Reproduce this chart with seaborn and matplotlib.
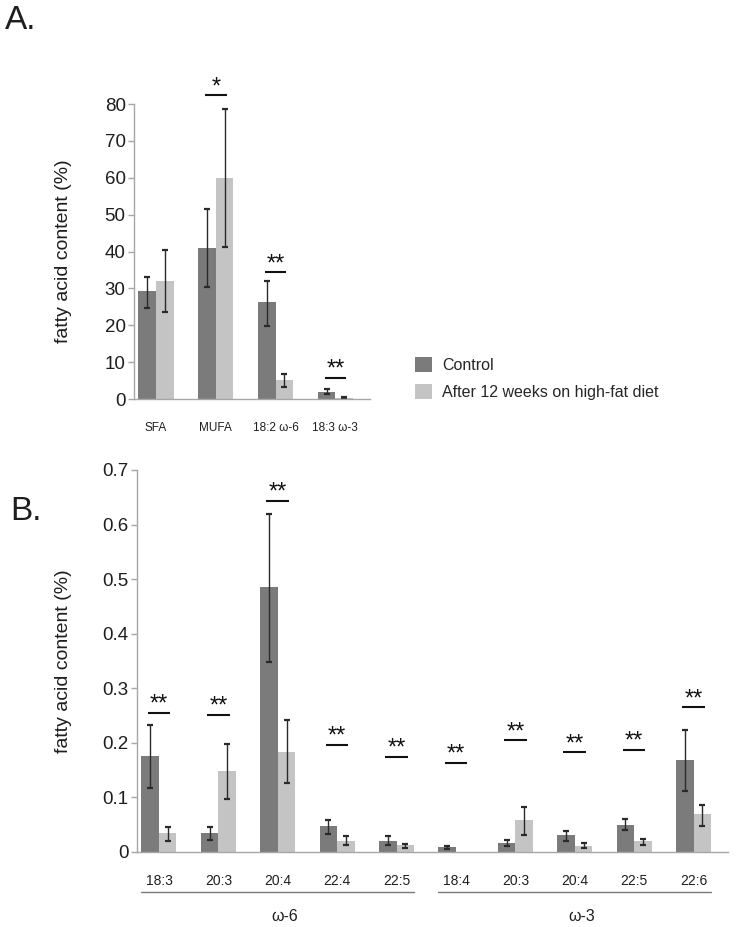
import numpy as np
import pandas as pd
import matplotlib
matplotlib.use("Agg")
import matplotlib.pyplot as plt
import matplotlib.transforms as mtransforms
import seaborn as sns

# %% data
groups = ["Control", "After 12 weeks on high-fat diet"]
colors = ["#7b7b7b", "#c4c4c4"]

# panel A: major fatty acid classes
a_labels = ["SFA", "MUFA", "18:2 ω-6", "18:3 ω-3"]
a_control = [29.2, 41.0, 26.2, 2.0]
a_control_lo = [24.8, 30.3, 19.7, 1.4]
a_control_hi = [33.0, 51.5, 32.0, 2.6]
a_hfd = [32.0, 60.0, 5.2, 0.4]
a_hfd_lo = [23.5, 41.3, 3.3, 0.2]
a_hfd_hi = [40.5, 78.7, 6.9, 0.6]
a_sig = ["", "*", "**", "**"]
a_sig_y = [np.nan, 82.4, 34.4, 5.7]

# panel B: polyunsaturated fatty acids
b_keys = ["w6 18:3", "w6 20:3", "w6 20:4", "w6 22:4", "w6 22:5",
          "w3 18:4", "w3 20:3", "w3 20:4", "w3 22:5", "w3 22:6"]
b_labels = ["18:3", "20:3", "20:4", "22:4", "22:5",
            "18:4", "20:3", "20:4", "22:5", "22:6"]
b_control = [0.176, 0.035, 0.485, 0.048, 0.021, 0.0085, 0.017, 0.0305, 0.050, 0.1695]
b_control_lo = [0.118, 0.0226, 0.349, 0.0335, 0.013, 0.0055, 0.0104, 0.021, 0.040, 0.1116]
b_control_hi = [0.232, 0.045, 0.619, 0.0585, 0.029, 0.011, 0.022, 0.038, 0.060, 0.223]
b_hfd = [0.035, 0.149, 0.184, 0.021, 0.0125, 0.0, 0.058, 0.0116, 0.0195, 0.069]
b_hfd_lo = [0.0195, 0.098, 0.126, 0.0134, 0.0075, np.nan, 0.032, 0.0073, 0.0134, 0.0476]
b_hfd_hi = [0.045, 0.198, 0.241, 0.0287, 0.0155, np.nan, 0.082, 0.016, 0.024, 0.087]
b_sig = ["**"] * 10
b_sig_y = [0.255, 0.251, 0.643, 0.196, 0.174, 0.163, 0.205, 0.183, 0.187, 0.265]

b_families = ["ω-6", "ω-3"]
b_family_span = [(0, 4), (5, 9)]

# %% style
sns.set_theme(style="ticks")
plt.rcParams["font.family"] = ["Liberation Sans", "DejaVu Sans"]
axis_gray = "#a6a6a6"
text_col = "#1e1e1e"


def long_df(keys, ctrl, hfd):
    return pd.DataFrame({
        "fa": list(keys) * 2,
        "group": [groups[0]] * len(keys) + [groups[1]] * len(keys),
        "value": list(ctrl) + list(hfd),
    })


def draw_panel(ax, keys, ctrl, ctrl_lo, ctrl_hi, hfd, hfd_lo, hfd_hi, legend):
    df = long_df(keys, ctrl, hfd)
    sns.barplot(data=df, x="fa", y="value", hue="group", order=keys,
                hue_order=groups, palette=colors, saturation=1, width=0.59,
                errorbar=None, linewidth=0, legend=legend, ax=ax)
    for cont, val, lo, hi in zip(ax.containers, [ctrl, hfd], [ctrl_lo, hfd_lo], [ctrl_hi, hfd_hi]):
        val, lo, hi = map(np.asarray, (val, lo, hi))
        xs = np.array([b.get_x() + b.get_width() / 2 for b in cont])
        ok = ~np.isnan(lo)
        ax.errorbar(xs[ok], val[ok], yerr=[val[ok] - lo[ok], hi[ok] - val[ok]],
                    fmt="none", ecolor="#2a2a2a", elinewidth=1.0,
                    capsize=2.4, capthick=1.6)
    sns.despine(ax=ax)
    for s in ("left", "bottom"):
        ax.spines[s].set_color(axis_gray)
        ax.spines[s].set_linewidth(1.0)
    ax.tick_params(axis="y", length=4, width=1, color=axis_gray,
                   labelsize=13.5, labelcolor=text_col, pad=2)
    ax.tick_params(axis="x", length=0, labelcolor=text_col)
    ax.set_xlabel("")
    ax.set_ylabel("fatty acid content (%)", fontsize=14, color=text_col)


def draw_sig(ax, sig, sig_y, half):
    for i, (s, y) in enumerate(zip(sig, sig_y)):
        if not s:
            continue
        ax.plot([i - half, i + half], [y, y], color="#111111", lw=1.5,
                solid_capstyle="butt", clip_on=False)
        ax.annotate(s, (i, y), xytext=(0, 1.5), textcoords="offset points",
                    ha="center", va="baseline", fontsize=17, color="#111111",
                    annotation_clip=False)


fig = plt.figure(figsize=(7.36, 9.27), dpi=100)

# %% panel A
axA = fig.add_axes([134 / 736, 1 - 399 / 927, 236 / 736, 295 / 927])
draw_panel(axA, a_labels, a_control, a_control_lo, a_control_hi,
           a_hfd, a_hfd_lo, a_hfd_hi, legend=True)
axA.set_ylim(0, 80)
axA.set_yticks(np.arange(0, 81, 10))
axA.set_xlim(-0.37, 3.58)
axA.tick_params(axis="x", labelsize=8.5, pad=16.5)
axA.yaxis.set_label_coords(-0.263, 0.5)
draw_sig(axA, a_sig, a_sig_y, 0.18)
handles, labels = axA.get_legend_handles_labels()
axA.legend(handles, labels, loc="upper left", bbox_to_anchor=(415 / 736, 1 - 357 / 927),
           bbox_transform=fig.transFigure, frameon=False, fontsize=11.5,
           handlelength=1.05, handleheight=1.05, handletextpad=0.65,
           labelspacing=0.72, borderpad=0, borderaxespad=0)

# %% panel B
axB = fig.add_axes([137 / 736, 1 - 852 / 927, 591 / 736, 382 / 927])
draw_panel(axB, b_keys, b_control, b_control_lo, b_control_hi,
           b_hfd, b_hfd_lo, b_hfd_hi, legend=False)
axB.set_ylim(0, 0.7)
axB.set_yticks(np.arange(0, 0.71, 0.1))
axB.set_yticklabels(["0"] + [f"{v:.1f}" for v in np.arange(0.1, 0.71, 0.1)])
axB.set_xlim(-0.37, 9.58)
axB.set_xticks(range(len(b_labels)))
axB.set_xticklabels(b_labels)
axB.tick_params(axis="x", labelsize=10, pad=15.5)
axB.yaxis.set_label_coords(-0.110, 0.5)
draw_sig(axB, b_sig, b_sig_y, 0.19)

trans = mtransforms.blended_transform_factory(axB.transData, axB.transAxes)
for name, (i0, i1) in zip(b_families, b_family_span):
    axB.plot([i0 - 0.30, i1 + 0.30], [-0.105, -0.105], color="#7a7a7a", lw=1.0,
             transform=trans, clip_on=False)
    axB.text((i0 + i1) / 2 + 0.12, -0.168, name, transform=trans, ha="center",
             va="center", fontsize=11.5, color=text_col)

fig.text(5 / 736, 1 - 5 / 927, "A.", fontsize=24, va="top", ha="left", color=text_col)
fig.text(10 / 736, 1 - 496 / 927, "B.", fontsize=24, va="top", ha="left", color=text_col)

fig.savefig("out.png", dpi=100)
